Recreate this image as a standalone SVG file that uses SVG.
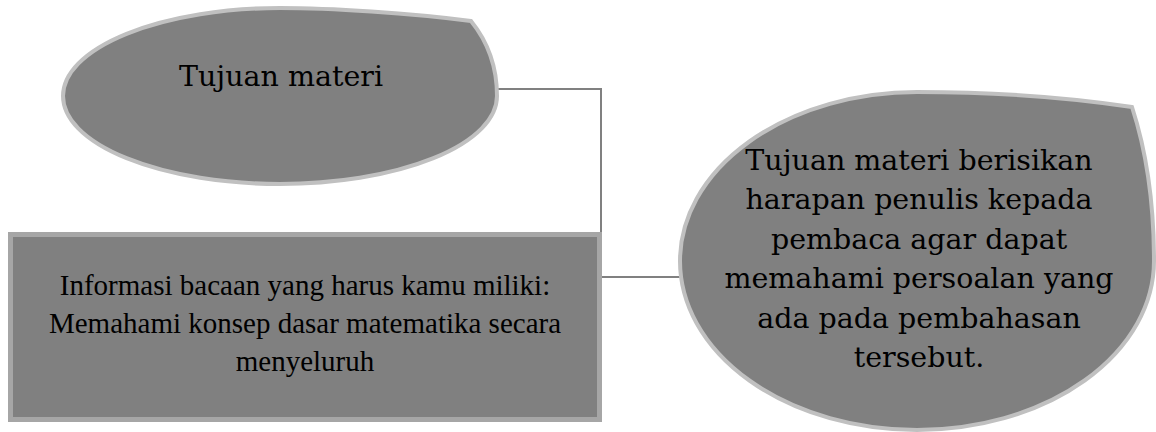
<svg xmlns="http://www.w3.org/2000/svg" width="1156" height="432" viewBox="0 0 1156 432">
<style>
.drop{fill:#808080;stroke:#c0c0c0;stroke-width:4;stroke-linejoin:miter}
.box{fill:#808080;stroke:#a6a6a6;stroke-width:5}
.conn{fill:none;stroke:#808080;stroke-width:2}
.bk{font-family:"DejaVu Serif","Liberation Serif",serif;fill:#000;text-anchor:middle;font-size:28.5px}
.tm{font-family:"Liberation Serif","Times New Roman",serif;fill:#000;text-anchor:middle;font-size:29px}
</style>
<rect width="1156" height="432" fill="#fff"/>
<g id="connectors">
<path class="conn" d="M497,89 H601 V277 H682"/>
</g>
<g id="node-tujuan">
<path class="drop" d="M280,8 A217,88 0 0 0 63,96 A217,88 0 0 0 280,184 A217,88 0 0 0 497,96 C497,66 488,42 471,21 C410,13 330,8 280,8 Z"/>
<text class="bk" x="281" y="86">Tujuan materi</text>
</g>
<g id="node-informasi">
<rect class="box" x="10.5" y="234.5" width="589" height="185"/>
<text class="tm" x="305" y="295">Informasi bacaan yang harus kamu miliki:</text>
<text class="tm" x="305" y="333">Memahami konsep dasar matematika secara</text>
<text class="tm" x="305" y="371">menyeluruh</text>
</g>
<g id="node-penjelasan">
<path class="drop" d="M917,92 A237,169 0 0 0 680,261 A237,169 0 0 0 917,430 A237,169 0 0 0 1154,261 C1154,200 1146,150 1132,107 C1060,96 990,92 917,92 Z"/>
<g class="bk">
<text x="919" y="170">Tujuan materi berisikan</text>
<text x="919" y="209">harapan penulis kepada</text>
<text x="919" y="249">pembaca agar dapat</text>
<text x="919" y="288">memahami persoalan yang</text>
<text x="919" y="328">ada pada pembahasan</text>
<text x="919" y="367">tersebut.</text>
</g>
</g>
</svg>
